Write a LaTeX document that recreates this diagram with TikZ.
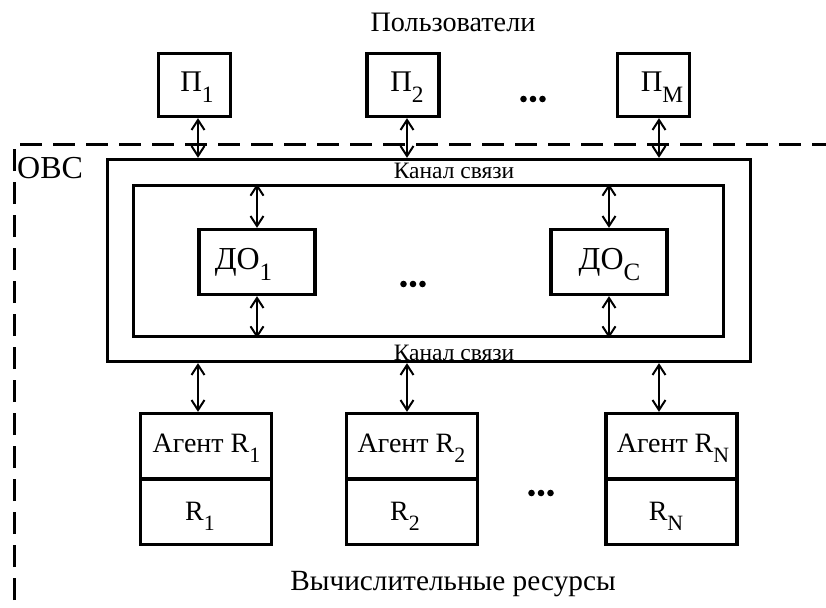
\documentclass[tikz,border=0pt]{standalone}
\usepackage{fontspec}
\setmainfont{Liberation Serif}
\usetikzlibrary{arrows.meta}
\newcommand\sbx[1]{\raisebox{-0.36em}{\scalebox{0.78}{#1}}}
\newcommand\fbig{\fontsize{30}{36}\selectfont}
\newcommand\fdo{\fontsize{32}{38}\selectfont}
\newcommand\fobc{\fontsize{32}{38}\selectfont}
\newcommand\ftitle{\fontsize{28.2}{34}\selectfont}
\newcommand\fbot{\fontsize{29.3}{35}\selectfont}
\newcommand\fmid{\fontsize{28}{34}\selectfont}
\newcommand\fsmall{\fontsize{23.5}{28}\selectfont}
\begin{document}
\begin{tikzpicture}[x=1pt,y=-1pt,
  box/.style={draw, line width=3.3pt, rectangle, inner sep=0pt},
  pbox/.style={box, minimum width=72pt, minimum height=63pt},
  dobox/.style={box, minimum width=116pt, minimum height=65pt},
  agbox/.style={box, minimum width=131pt, minimum height=65.5pt},
  biarrow/.style={line width=2pt, {Straight Barb[length=10pt,width=13pt]}-{Straight Barb[length=10pt,width=13pt]}},
  frame/.style={line width=3pt, dash pattern=on 22pt off 11pt},
  dot/.style={fill=black, draw=none, circle, minimum size=6.6pt, inner sep=0pt},
  txt/.style={inner sep=0pt, anchor=base}]
\useasboundingbox (0,0) rectangle (826,607);
% dashed frame
\draw[frame] (14,600) -- (14,144) -- (826,144);
% titles
\node[txt, font=\ftitle] (title) at (453,32) {Пользователи};
\node[txt, font=\fbot] (bottom) at (453,590) {Вычислительные ресурсы};
\node[txt, font=\fobc, anchor=base west] (obc) at (17,178) {ОВС};
% users
\node[pbox] (p1) at (194.5,85) {};
\node[pbox] (p2) at (403,85) {};
\node[pbox] (pm) at (653.5,85) {};
\node[txt, font=\fbig] (p1t) at (197,92) {П\sbx{1}};
\node[txt, font=\fbig] (p2t) at (407,92) {П\sbx{2}};
\node[txt, font=\fbig] (pmt) at (662,92) {П\sbx{M}};
\node[dot] (ud1) at (523.5,99) {};
\node[dot] (ud2) at (533,99) {};
\node[dot] (ud3) at (542.5,99) {};
% channel
\node[box, minimum width=643pt, minimum height=202pt] (outer) at (429,260.5) {};
\node[box, minimum width=590pt, minimum height=151pt] (inner) at (428.5,261) {};
\node[txt, font=\fsmall] (ch1) at (454,178) {Канал связи};
\node[txt, font=\fsmall] (ch2) at (454,360) {Канал связи};
% DO
\node[dobox] (d1) at (257,262) {};
\node[dobox] (dc) at (609,262) {};
\node[txt, font=\fdo] (d1t) at (243.5,269) {ДО\sbx{1}};
\node[txt, font=\fdo] (dct) at (609.5,269) {ДО\sbx{C}};
\node[dot] (md1) at (403.5,284) {};
\node[dot] (md2) at (413,284) {};
\node[dot] (md3) at (422.5,284) {};
% agents
\node[agbox] (a1) at (206,446.25) {};
\node[agbox] (r1) at (206,511.75) {};
\node[agbox] (a2) at (412,446.25) {};
\node[agbox] (r2) at (412,511.75) {};
\node[agbox] (an) at (671.5,446.25) {};
\node[agbox] (rn) at (671.5,511.75) {};
\node[txt, font=\fmid] (a1t) at (206.5,452) {Агент R\sbx{1}};
\node[txt, font=\fmid] (a2t) at (411.5,452) {Агент R\sbx{2}};
\node[txt, font=\fmid] (ant) at (673,452) {Агент R\sbx{N}};
\node[txt, font=\fmid] (r1t) at (200,520) {R\sbx{1}};
\node[txt, font=\fmid] (r2t) at (405,520) {R\sbx{2}};
\node[txt, font=\fmid] (rnt) at (666,520) {R\sbx{N}};
\node[dot] (bd1) at (531.5,493) {};
\node[dot] (bd2) at (541,493) {};
\node[dot] (bd3) at (550.5,493) {};
% arrow columns
\coordinate (x1) at (198,0);
\coordinate (x2) at (407,0);
\coordinate (x3) at (659,0);
\coordinate (xd1) at (257,0);
\coordinate (xdc) at (609,0);
% arrows
\draw[biarrow] (x1 |- p1.south) -- (x1 |- outer.north);
\draw[biarrow] (x2 |- p2.south) -- (x2 |- outer.north);
\draw[biarrow] (x3 |- pm.south) -- (x3 |- outer.north);
\draw[biarrow] (xd1 |- inner.north) -- (xd1 |- d1.north);
\draw[biarrow] (xd1 |- d1.south) -- (xd1 |- inner.south);
\draw[biarrow] (xdc |- inner.north) -- (xdc |- dc.north);
\draw[biarrow] (xdc |- dc.south) -- (xdc |- inner.south);
\draw[biarrow] (x1 |- outer.south) -- (x1 |- a1.north);
\draw[biarrow] (x2 |- outer.south) -- (x2 |- a2.north);
\draw[biarrow] (x3 |- outer.south) -- (x3 |- an.north);
\end{tikzpicture}
\end{document}
